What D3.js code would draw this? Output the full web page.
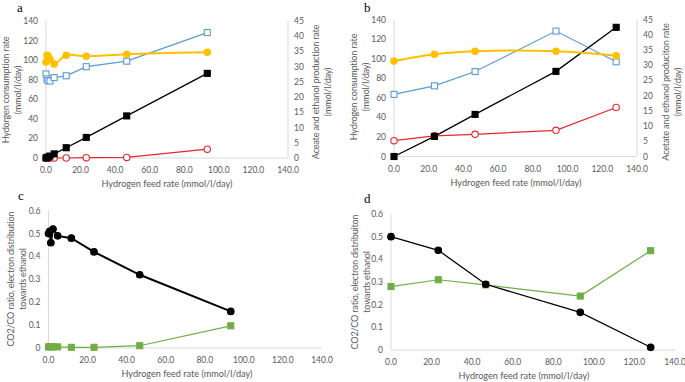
<!DOCTYPE html>
<html lang="en">
<head>
<meta charset="utf-8">
<title>hydrogen feed panels</title>
<script src="https://d3js.org/d3.v7.min.js"></script>
<style>
  body { margin: 0; background: #fff; }
  text { font-family: Lato, "Open Sans", sans-serif; fill: #595959; }
  .letter { font-family: "Liberation Serif", "DejaVu Serif", serif; fill: #000; font-size: 13px; }
</style>
</head>
<body>
<svg id="chart" width="685" height="382"></svg>
<script>
// colours
var yellow = "#ffc000"
var blue = "#5b9bd5"
var red = "#e8262b"
var green = "#70ad47"
var axisGray = "#d9d9d9"

// panel a (left axis: consumption, right axis: production)
var feedA = [0, 0.6, 1.2, 2.3, 4.7, 11.7, 23.3, 46.7, 93.3]
var h2A = [0, 0.5, 1, 2, 4.2, 10.5, 21, 43, 86.5]
var coA = [98, 105, 104.5, 101, 96, 105, 104, 106, 108]
var acetateA = [27.6, 26, 25.4, 25.3, 26.4, 27, 30, 31.8, 41.2]
var ethanolA = [0, 0, 0, 0, 0, 0, 0.1, 0.2, 2.9]

// panel b
var feedB = [0, 23.3, 46.7, 93.3, 128]
var h2B = [0, 20.5, 43, 87, 132]
var coB = [97.5, 104.5, 107.5, 107.5, 103]
var acetateB = [20.4, 23.2, 27.9, 41.2, 31.1]
var ethanolB = [5.2, 6.8, 7.3, 8.6, 16.1]

// panel c
var ratioC = [0.50, 0.51, 0.46, 0.52, 0.49, 0.48, 0.42, 0.32, 0.16]
var electronC = [0.005, 0.005, 0.005, 0.005, 0.005, 0.003, 0.003, 0.01, 0.097]

// panel d
var ratioD = [0.50, 0.44, 0.29, 0.166, 0.012]
var electronD = [0.28, 0.31, 0.287, 0.238, 0.438]

// tick labels
var xTicks = [0, 20, 40, 60, 80, 100, 120, 140]
var leftTicksAB = [0, 20, 40, 60, 80, 100, 120, 140]
var rightTicksAB = [0, 5, 10, 15, 20, 25, 30, 35, 40, 45]
var leftTicksCD = [0, 0.1, 0.2, 0.3, 0.4, 0.5, 0.6]

var xTitle = "Hydrogen feed rate (mmol/l/day)"

var svg = d3.select("#chart")
svg.append("rect").attr("width", 685).attr("height", 382).attr("fill", "#fff")

function textWidth(str, size) {
  var t = svg.append("text").attr("font-size", size).text(str)
  var w = t.node().getComputedTextLength()
  t.remove()
  return w
}
// x title sized to its width in the picture; rotated titles same size, a little tighter
var xTitleSize = 10 * 131 / textWidth(xTitle, 10)
var yTitleSize = xTitleSize
var yTitleSpacing = -0.2

function makePanel(p) {
  var g = svg.append("g")
  var x = d3.scaleLinear().domain([0, 140]).range([p.x0, p.x1])
  var y = d3.scaleLinear().domain([0, p.yMax]).range([p.yBot, p.yTop])
  var y2 = p.y2Max ? d3.scaleLinear().domain([0, p.y2Max]).range([p.yBot, p.yTop]) : null

  // axis lines
  g.append("line").attr("x1", p.x0).attr("x2", p.x0).attr("y1", p.yTop).attr("y2", p.yBot)
    .attr("stroke", axisGray)
  g.append("line").attr("x1", p.x0).attr("x2", p.x1).attr("y1", p.yBot).attr("y2", p.yBot)
    .attr("stroke", axisGray)
  if (y2) {
    g.append("line").attr("x1", p.x1).attr("x2", p.x1).attr("y1", p.yTop).attr("y2", p.yBot)
      .attr("stroke", axisGray)
  }

  // tick labels
  g.selectAll(".xt").data(xTicks).enter().append("text")
    .attr("x", d => x(d)).attr("y", p.yBot + 15)
    .attr("text-anchor", "middle").attr("font-size", 8.5)
    .text(d => d.toFixed(1))
  g.selectAll(".yt").data(p.leftTicks).enter().append("text")
    .attr("x", p.x0 - 8).attr("y", d => y(d) + 3)
    .attr("text-anchor", "end").attr("font-size", 8.5)
    .text(p.leftFmt)
  if (y2) {
    g.selectAll(".y2t").data(rightTicksAB).enter().append("text")
      .attr("x", p.x1 + 6).attr("y", d => y2(d) + 3)
      .attr("text-anchor", "start").attr("font-size", 8.5)
      .text(d => d)
  }

  // titles
  g.append("text").attr("x", p.xTitleX).attr("y", p.yBot + 29)
    .attr("text-anchor", "middle").attr("font-size", xTitleSize).text(xTitle)
  var rotated = function(lines, x0, y0) {
    lines.forEach(function(t, i) {
      g.append("text")
        .attr("transform", "translate(" + (x0 + i * 12) + "," + y0 + ") rotate(-90)")
        .attr("text-anchor", "middle").attr("font-size", yTitleSize)
        .attr("letter-spacing", yTitleSpacing).text(t)
    })
  }
  rotated(p.leftTitle, p.leftTitleX, p.leftTitleY)
  if (p.rightTitle) rotated(p.rightTitle, p.rightTitleX, p.rightTitleY)
  g.append("text").attr("class", "letter").attr("x", p.letterX).attr("y", p.letterY).text(p.letter)

  // series
  p.series.forEach(function(s) {
    var sc = s.right ? y2 : y
    var pts = s.values.map((v, i) => [x(p.feed[i]), sc(v)])
    var line = d3.line().curve(s.smooth ? d3.curveCatmullRom : d3.curveLinear)
    g.append("path").attr("d", line(pts)).attr("fill", "none")
      .attr("stroke", s.color).attr("stroke-width", s.width)
    if (s.marker == "circle") {
      g.selectAll(null).data(pts).enter().append("circle")
        .attr("cx", d => d[0]).attr("cy", d => d[1]).attr("r", s.size)
        .attr("fill", s.open ? "#fff" : s.color).attr("stroke", s.color).attr("stroke-width", 1.1)
    } else {
      g.selectAll(null).data(pts).enter().append("rect")
        .attr("x", d => d[0] - s.size).attr("y", d => d[1] - s.size)
        .attr("width", s.size * 2).attr("height", s.size * 2)
        .attr("fill", s.open ? "#fff" : s.color).attr("stroke", s.color).attr("stroke-width", 1.1)
    }
  })
}

makePanel({
  letter: "a", letterX: 17, letterY: 12,
  x0: 46, x1: 288, yTop: 21, yBot: 158, yMax: 140, y2Max: 45,
  leftTicks: leftTicksAB, leftFmt: d => d,
  xTitleX: 167,
  leftTitle: ["Hydorgen consumption rate", "(mmol/l/day)"], leftTitleX: 9, leftTitleY: 90,
  rightTitle: ["Aceate and ethanol production rate", "(mmol/l/day)"], rightTitleX: 318.5, rightTitleY: 92,
  feed: feedA,
  series: [
    {values: acetateA, right: true, color: blue, width: 1.2, marker: "rect", size: 3, open: true},
    {values: ethanolA, right: true, color: red, width: 1.2, marker: "circle", size: 3.2, open: true},
    {values: h2A, color: "#000", width: 1.3, marker: "rect", size: 3},
    {values: coA, color: yellow, width: 2, marker: "circle", size: 3.2, smooth: true}
  ]
})

makePanel({
  letter: "b", letterX: 364, letterY: 12,
  x0: 394, x1: 637, yTop: 19.5, yBot: 156.5, yMax: 140, y2Max: 45,
  leftTicks: leftTicksAB, leftFmt: d => d,
  xTitleX: 516,
  leftTitle: ["Hydrogen consumption rate", "(mmol/l/day)"], leftTitleX: 356.5, leftTitleY: 87,
  rightTitle: ["Acetate and ethanol produciton rate", "(mmol/l/day)"], rightTitleX: 668.5, rightTitleY: 92,
  feed: feedB,
  series: [
    {values: acetateB, right: true, color: blue, width: 1.2, marker: "rect", size: 3, open: true},
    {values: ethanolB, right: true, color: red, width: 1.2, marker: "circle", size: 3.2, open: true},
    {values: h2B, color: "#000", width: 1.3, marker: "rect", size: 3},
    {values: coB, color: yellow, width: 2, marker: "circle", size: 3.2, smooth: true}
  ]
})

makePanel({
  letter: "c", letterX: 18, letterY: 200,
  x0: 48.5, x1: 322, yTop: 210.7, yBot: 348, yMax: 0.6,
  leftTicks: leftTicksCD, leftFmt: d => d == 0 ? "0" : d.toFixed(1),
  xTitleX: 187,
  leftTitle: ["CO2/CO ratio, electron distribution", "towards ethanol"], leftTitleX: 13.5, leftTitleY: 279,
  feed: feedA,
  series: [
    {values: electronC, color: green, width: 1.2, marker: "rect", size: 3},
    {values: ratioC, color: "#000", width: 2, marker: "circle", size: 3.3}
  ]
})

makePanel({
  letter: "d", letterX: 364, letterY: 203,
  x0: 391, x1: 675, yTop: 214, yBot: 350, yMax: 0.6,
  leftTicks: leftTicksCD, leftFmt: d => d == 0 ? "0" : d.toFixed(1),
  xTitleX: 524,
  leftTitle: ["CO2/CO ratio, electron distribuiton", "towards ethanol"], leftTitleX: 358, leftTitleY: 282,
  feed: feedB,
  series: [
    {values: electronD, color: green, width: 1.2, marker: "rect", size: 3},
    {values: ratioD, color: "#000", width: 1.3, marker: "circle", size: 3.3}
  ]
})
</script>
</body>
</html>
